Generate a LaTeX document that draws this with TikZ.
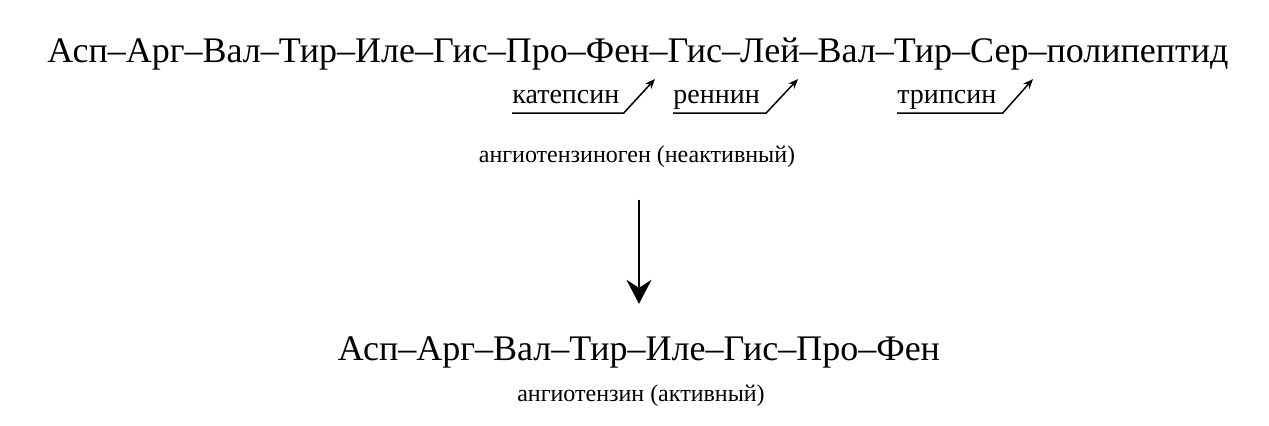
\documentclass[tikz,border=0pt]{standalone}
\usepackage{fontspec}
\setmainfont{Liberation Serif}
\usetikzlibrary{arrows.meta}
\begin{document}
\begin{tikzpicture}[x=0.5pt,y=-0.5pt,
  chain/.style={inner sep=0pt,font=\fontsize{18}{20}\selectfont},
  enzyme/.style={inner sep=0pt,font=\fontsize{14}{16}\selectfont},
  caption/.style={inner sep=0pt,font=\fontsize{12}{14}\selectfont},
  cut/.style={line width=0.75pt,-{Stealth[length=5pt,width=4pt]}},
  main arrow/.style={line width=1.3pt,-{Stealth[length=12pt,width=12.5pt,inset=4pt]}}]

  \useasboundingbox (0,0) rectangle (1269,425);

  \node[chain,anchor=base] (gen) at (638,62) {Асп–Арг–Вал–Тир–Иле–Гис–Про–Фен–Гис–Лей–Вал–Тир–Сер–полипептид};
  \node[enzyme,anchor=base west] (kat) at (512,103) {катепсин};
  \node[enzyme,anchor=base west] (ren) at (673,103) {реннин};
  \node[enzyme,anchor=base west] (tri) at (897,103) {трипсин};
  \node[caption,anchor=base] (genname) at (637,162) {ангиотензиноген (неактивный)};
  \node[chain,anchor=base] (tenz) at (639,360) {Асп–Арг–Вал–Тир–Иле–Гис–Про–Фен};
  \node[caption,anchor=base] (tenzname) at (641,401) {ангиотензин (активный)};

  % cleavage sites
  \coordinate (c1) at (655,79);
  \coordinate (c2) at (798,79);
  \coordinate (c3) at (1033,79);

  \draw[cut] ([yshift=-5pt]kat.base west) -- ([xshift=2pt,yshift=-5pt]kat.base east) -- (c1);
  \draw[cut] ([yshift=-5pt]ren.base west) -- ([xshift=3pt,yshift=-5pt]ren.base east) -- (c2);
  \draw[cut] ([yshift=-5pt]tri.base west) -- ([xshift=3pt,yshift=-5pt]tri.base east) -- (c3);

  \draw[main arrow,shorten <=16pt,shorten >=16pt] (genname.south -| tenz.north) -- (tenz.north);
\end{tikzpicture}
\end{document}
